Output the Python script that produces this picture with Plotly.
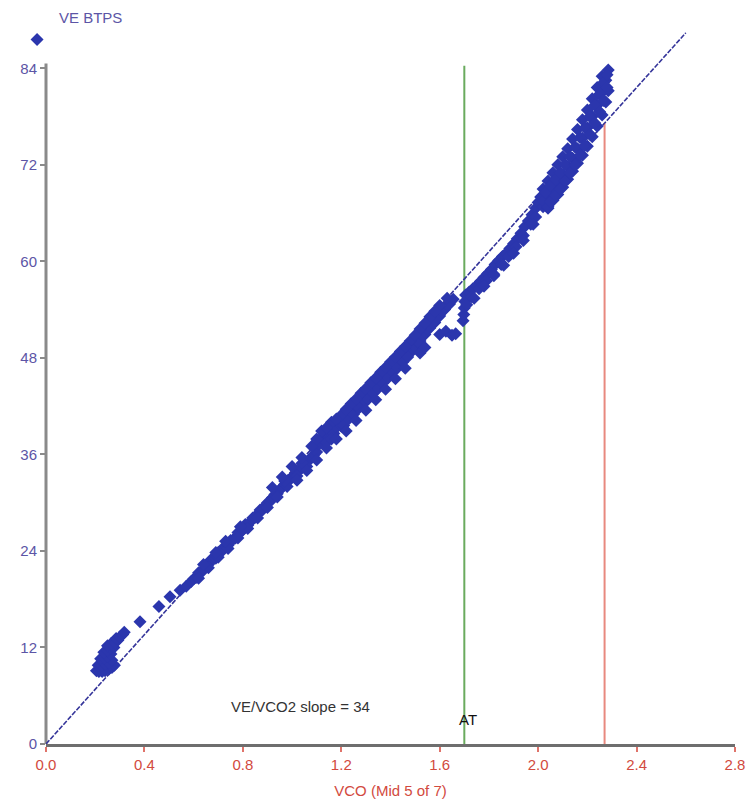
import plotly.graph_objects as go

# ---------------- data ----------------
# low-exercise blob
blob_vco = [0.205, 0.215, 0.228, 0.240, 0.255, 0.268, 0.278,
            0.212, 0.225, 0.240, 0.255, 0.268,
            0.222, 0.236, 0.250, 0.264,
            0.235, 0.250, 0.264, 0.276,
            0.250, 0.265, 0.280, 0.292,
            0.285, 0.300, 0.312, 0.318]
blob_ve = [9.1, 9.0, 9.0, 9.1, 9.3, 9.5, 9.8,
           9.8, 9.8, 9.9, 10.1, 10.4,
           10.6, 10.7, 10.9, 11.2,
           11.4, 11.6, 11.9, 12.0,
           12.2, 12.5, 12.6, 12.9,
           13.1, 13.3, 13.6, 13.9]

# isolated points
iso_vco = [0.382, 0.459, 0.504, 0.545, 0.570]
iso_ve = [15.2, 17.1, 18.3, 19.1, 19.6]

# dense band up to ~1.1
band1_vco = [0.59, 0.60, 0.61, 0.62, 0.63, 0.64, 0.65, 0.66, 0.67, 0.68, 0.69, 0.70,
             0.71, 0.72, 0.73, 0.74, 0.75, 0.76, 0.77, 0.78, 0.79, 0.80, 0.81, 0.82,
             0.83, 0.84, 0.85, 0.86, 0.87, 0.88, 0.89, 0.90, 0.91, 0.92, 0.93, 0.94,
             0.95, 0.96, 0.97, 0.98, 0.99, 1.00, 1.01, 1.02, 1.03, 1.04, 1.05, 1.06,
             1.07, 1.08, 1.09, 1.10,
             0.62, 0.66, 0.70, 0.74, 0.78, 0.82, 0.86, 0.90, 0.94, 0.98, 1.02, 1.06,
             0.64, 0.69, 0.73, 0.79, 0.97, 1.04]
band1_ve = [20.2, 20.5, 20.7, 21.3, 21.3, 21.7, 22.2, 22.3, 22.9, 23.0, 23.1, 23.8,
            23.8, 24.4, 24.5, 24.7, 25.3, 25.4, 25.6, 26.3, 26.3, 26.6, 27.3, 27.2,
            27.6, 28.1, 28.2, 28.6, 29.1, 29.1, 29.6, 30.0, 30.1, 30.6, 31.0, 31.1,
            31.6, 31.9, 32.3, 32.5, 32.9, 33.2, 33.4, 33.8, 34.1, 34.3, 34.7, 35.0,
            35.3, 35.7, 36.0, 36.3,
            20.6, 21.9, 23.2, 24.3, 25.6, 26.8, 28.1, 29.4, 30.7, 32.0, 33.3, 34.5,
            22.3, 23.8, 25.2, 27.0, 32.7, 34.9]

# middle band 1.1 - 1.66 (left of AT)
band2_vco = [1.11, 1.12, 1.13, 1.14, 1.15, 1.16, 1.17, 1.18, 1.14, 1.16,
             1.20, 1.22, 1.24, 1.26, 1.28, 1.30, 1.32, 1.34, 1.36, 1.38, 1.40,
             1.42, 1.44, 1.46, 1.48, 1.21, 1.23, 1.25, 1.27, 1.29, 1.31, 1.33,
             1.35, 1.37, 1.39, 1.41, 1.43, 1.45, 1.47, 1.26,
             1.50, 1.52, 1.54, 1.56, 1.58, 1.60, 1.62, 1.64, 1.655,
             1.51, 1.53, 1.55, 1.57, 1.59, 1.61, 1.63,
             1.60, 1.625, 1.65, 1.665, 1.52, 1.54]
band2_ve = [37.3, 38.1, 37.8, 38.6, 38.2, 39.0, 38.6, 39.3, 37.5, 37.9,
            39.5, 40.2, 40.8, 41.5, 42.1, 42.8, 43.4, 44.1, 44.7, 45.4, 46.0,
            46.7, 47.3, 48.0, 48.6, 39.6, 40.4, 41.0, 41.7, 42.3, 42.9, 43.6,
            44.2, 44.9, 45.5, 46.2, 46.8, 47.5, 48.1, 42.1,
            49.3, 50.1, 50.9, 51.7, 52.4, 53.2, 54.0, 54.7, 55.3,
            50.0, 50.8, 51.5, 52.3, 53.0, 53.8, 54.5,
            50.9, 51.3, 50.8, 51.0, 48.6, 49.3]

# upper and lower edges of the thick middle band
edge_hi_vco = [0.92, 0.96, 1.00, 1.04, 1.08, 1.12, 1.16, 1.20, 1.24, 1.28, 1.32,
               1.36, 1.40, 1.44, 1.48, 1.52, 1.56, 1.60, 1.63,
               1.10, 1.14, 1.18, 1.22, 1.26, 1.30, 1.34, 1.38, 1.42, 1.46, 1.50, 1.54, 1.58]
edge_hi_ve = [31.9, 33.2, 34.5, 35.6, 37.0, 38.9, 40.0, 40.9, 42.3, 43.6, 44.9,
              46.2, 47.5, 48.8, 50.1, 51.6, 53.1, 54.5, 55.4,
              37.9, 39.3, 40.4, 41.6, 42.9, 44.2, 45.5, 46.8, 48.1, 49.4, 50.8, 52.3, 53.8]
edge_lo_vco = [1.02, 1.06, 1.10, 1.14, 1.18, 1.22, 1.26, 1.30, 1.34, 1.38, 1.42, 1.46]
edge_lo_ve = [32.8, 34.0, 35.3, 36.8, 37.9, 38.9, 40.2, 41.5, 42.8, 44.1, 45.4, 46.7]

# band right of AT
band3_vco = [1.695, 1.698, 1.700, 1.702, 1.705, 1.710, 1.720, 1.735, 1.750, 1.765,
             1.780, 1.795, 1.810, 1.825, 1.840, 1.855, 1.870, 1.885, 1.900, 1.915,
             1.930, 1.945, 1.960, 1.975, 1.990, 2.000, 2.010,
             1.73, 1.76, 1.79, 1.82, 1.85, 1.88, 1.91, 1.94, 1.97, 1.99, 2.02,
             1.74, 1.78, 1.82, 1.86, 1.90, 1.94, 1.98,
             2.03, 2.05, 2.04, 2.06]
band3_ve = [52.6, 53.4, 54.2, 55.0, 55.8, 54.6, 56.2, 56.6, 57.0, 57.5,
            58.0, 58.5, 59.0, 59.6, 60.1, 60.6, 61.0, 61.6, 62.2, 62.8,
            63.5, 64.3, 65.0, 65.8, 66.6, 67.3, 68.0,
            55.6, 56.6, 57.6, 58.4, 59.6, 60.6, 61.8, 63.2, 64.6, 65.5, 66.8,
            55.4, 56.9, 58.2, 59.5, 61.0, 62.6, 64.6,
            67.4, 68.2, 66.6, 67.6]

# steep top part (centre, upper edge, lower edge, in-between rows)
band4_vco = [2.02, 2.04, 2.06, 2.08, 2.10, 2.12, 2.14, 2.16, 2.18, 2.20, 2.22, 2.24,
             2.26, 2.275, 2.285,
             2.02, 2.04, 2.06, 2.08, 2.10, 2.12, 2.14, 2.16, 2.18, 2.20, 2.22, 2.24, 2.26,
             2.04, 2.06, 2.08, 2.10, 2.12, 2.14, 2.16, 2.18, 2.20, 2.22, 2.24, 2.26,
             2.275, 2.285,
             2.03, 2.05, 2.07, 2.09, 2.11, 2.13, 2.15, 2.17, 2.19, 2.21, 2.23, 2.25,
             2.265, 2.28,
             2.05, 2.07, 2.09, 2.11, 2.13, 2.15, 2.17, 2.19, 2.21, 2.23, 2.25, 2.265, 2.28]
band4_ve = [67.5, 68.3, 69.0, 69.8, 70.8, 71.8, 72.8, 74.0, 75.3, 76.6, 78.0, 79.4,
            81.0, 82.5, 83.8,
            69.0, 70.0, 71.0, 72.0, 73.0, 74.0, 75.2, 76.4, 77.6, 78.8, 80.2, 81.6, 83.0,
            66.8, 67.6, 68.3, 69.2, 70.2, 71.2, 72.2, 73.2, 74.3, 75.5, 76.8, 78.2,
            79.8, 81.2,
            68.6, 69.4, 70.2, 71.0, 72.0, 73.0, 74.2, 75.4, 76.6, 78.0, 79.4, 80.8,
            82.2, 83.2,
            67.4, 68.2, 69.0, 70.0, 71.0, 72.0, 73.2, 74.4, 75.8, 77.2, 78.6, 80.0, 81.6]

vco = (blob_vco + iso_vco + band1_vco + band2_vco + edge_hi_vco + edge_lo_vco
       + band3_vco + band4_vco)
ve = (blob_ve + iso_ve + band1_ve + band2_ve + edge_hi_ve + edge_lo_ve
      + band3_ve + band4_ve)

# regression line (VE/VCO2 slope = 34)
slope_vco = [0.0, 2.6]
slope_ve = [0.0, 88.4]

# anaerobic threshold and peak markers
at_vco = [1.70, 1.70]
at_ve = [0.0, 84.3]
peak_vco = [2.27, 2.27]
peak_ve = [0.0, 77.2]

x_ticks = [0.0, 0.4, 0.8, 1.2, 1.6, 2.0, 2.4, 2.8]
x_labels = ["0.0", "0.4", "0.8", "1.2", "1.6", "2.0", "2.4", "2.8"]
y_ticks = [0, 12, 24, 36, 48, 60, 72, 84]

# ---------------- figure ----------------
FONT = "Liberation Sans, Arial, sans-serif"
RED = "#d24a40"
PURPLE = "#5c55a6"

fig = go.Figure()

fig.add_trace(go.Scatter(x=at_vco, y=at_ve, mode="lines",
                         line=dict(color="#6aab5e", width=2), showlegend=False,
                         hoverinfo="skip"))
fig.add_trace(go.Scatter(x=peak_vco, y=peak_ve, mode="lines",
                         line=dict(color="#e8897f", width=2), showlegend=False,
                         hoverinfo="skip"))
fig.add_trace(go.Scatter(x=slope_vco, y=slope_ve, mode="lines",
                         line=dict(color="#35359a", width=1.6, dash="5px,1.5px"),
                         showlegend=False, hoverinfo="skip"))
fig.add_trace(go.Scatter(x=vco, y=ve, mode="markers", name=" ",
                         marker=dict(symbol="diamond", size=10, color="#2b36ad",
                                     line=dict(width=0)),
                         showlegend=True, cliponaxis=False))

fig.update_layout(
    width=751, height=807,
    margin=dict(l=46, r=16, t=20, b=63, autoexpand=False),
    paper_bgcolor="white", plot_bgcolor="white",
    font=dict(family=FONT, size=15),
    showlegend=True,
    legend=dict(x=-0.042, y=0.993, xanchor="left", yanchor="top",
                bgcolor="rgba(0,0,0,0)", font=dict(size=10), itemwidth=30),
    xaxis=dict(range=[0, 2.8], tickvals=x_ticks, ticktext=x_labels,
               showgrid=False, zeroline=False, automargin=False,
               showline=True, linecolor="#6e6e6e", linewidth=3,
               ticks="outside", ticklen=5, tickwidth=2, tickcolor="#e0736a",
               tickfont=dict(color=RED, size=15, family=FONT),
               title=dict(text="VCO (Mid 5 of 7)", font=dict(color=RED, size=15, family=FONT),
                          standoff=14)),
    yaxis=dict(range=[0, 90], tickvals=y_ticks, automargin=False,
               showgrid=False, zeroline=False, showline=False,
               ticks="outside", ticklen=5, tickwidth=2, tickcolor="#8a8a8a",
               tickfont=dict(color=PURPLE, size=15, family=FONT)),
    shapes=[dict(type="line", xref="paper", yref="paper", x0=0, x1=0, y0=0, y1=84.6 / 90,
                 line=dict(color="#8a8a8a", width=3), layer="below")],
    annotations=[
        dict(text="VE BTPS", xref="paper", yref="paper", x=0.016, y=1.003,
             xanchor="left", yanchor="middle", showarrow=False,
             font=dict(color=PURPLE, size=15, family=FONT)),
        dict(text="VE/VCO2 slope = 34", x=1.033, y=4.7, xref="x", yref="y",
             showarrow=False, font=dict(color="#333333", size=15, family=FONT)),
        dict(text="AT", x=1.715, y=3.1, xref="x", yref="y",
             showarrow=False, font=dict(color="#111111", size=15, family=FONT)),
    ],
)

fig.write_html("out.html")
